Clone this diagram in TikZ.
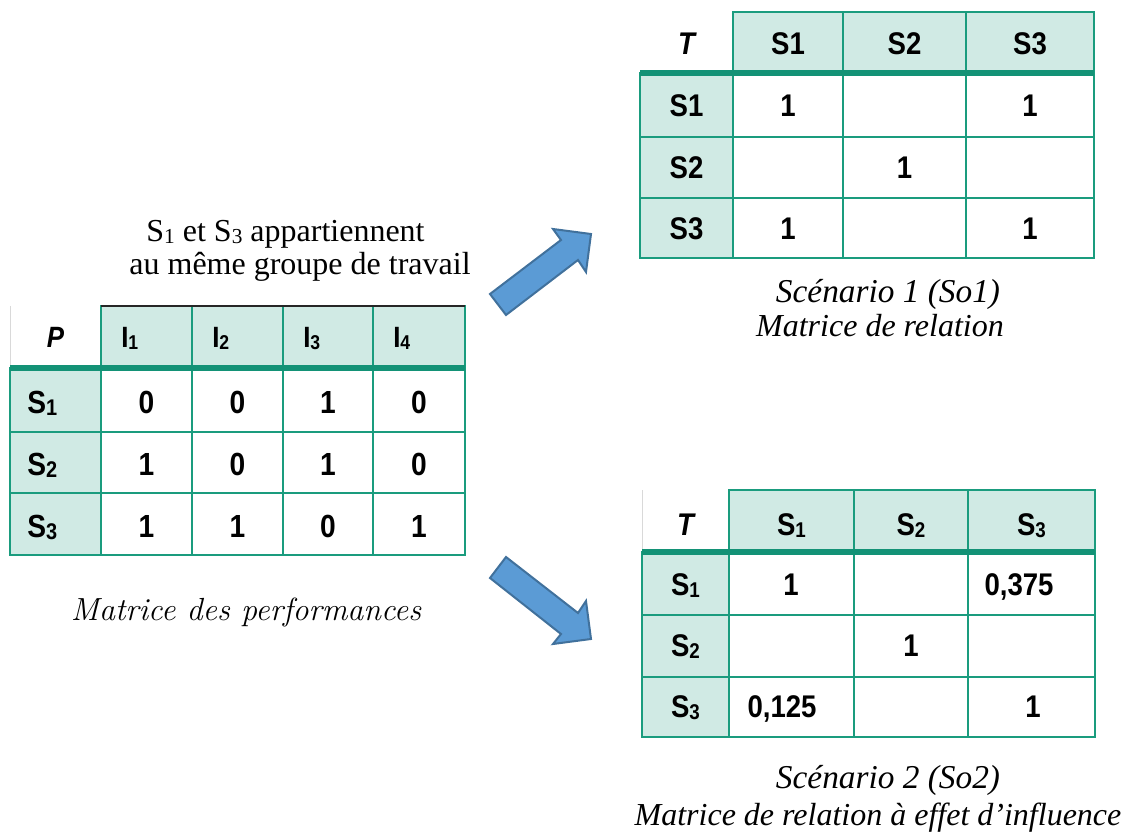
\documentclass[tikz,border=0pt]{standalone}
\usepackage{fontspec}
\setmainfont{Liberation Serif}
\newfontfamily\cellfont[FakeStretch=0.88]{Liberation Sans}
\newfontfamily\lmfont{Latin Modern Roman}
\definecolor{tealline}{RGB}{26,156,126}
\definecolor{tealdark}{RGB}{19,146,118}
\definecolor{tealfill}{RGB}{208,234,228}
\definecolor{arrowfill}{RGB}{91,155,213}
\definecolor{arrowdraw}{RGB}{65,113,156}
\newcommand\ssb[2]{\raisebox{-1.5pt}{\fontsize{#1}{#1}\selectfont #2}}
\begin{document}
\begin{tikzpicture}[x=0.75pt,y=-0.75pt,
  gridline/.style={draw=tealline, line width=1.5pt, line cap=rect},
  sepline/.style={draw=tealdark, line width=4pt},
  faint/.style={draw=black!15, line width=0.6pt},
  cell/.style={font=\cellfont\bfseries\fontsize{23.5}{27}\selectfont, inner sep=0pt, anchor=base},
  cellL/.style={font=\cellfont\bfseries\fontsize{24}{28}\selectfont, inner sep=0pt, anchor=base},
  hcell/.style={font=\cellfont\bfseries\fontsize{22}{26}\selectfont, inner sep=0pt, anchor=base west},
  lcell/.style={font=\cellfont\bfseries\fontsize{24}{28}\selectfont, inner sep=0pt, anchor=base west},
  capup/.style={font=\fontsize{24}{28}\selectfont, inner sep=0pt, anchor=base},
  capit/.style={font=\fontsize{24}{28}\selectfont\itshape, inner sep=0pt, anchor=base},
  bigarrow/.style={fill=arrowfill, draw=arrowdraw, line width=1.5pt, line join=miter}]
\path[use as bounding box] (0,0) rectangle (1128,834);

% ---------- Left table (performances) ----------
\fill[tealfill] (101,306) rectangle (465,368);
\fill[tealfill] (10,368) rectangle (101,555);
\draw[faint] (10,306) -- (10,368);
\draw[gridline] (10,368) -- (10,555);
\foreach \x in {101,192,283,373,465} \draw[gridline] (\x,306) -- (\x,555);
\foreach \y in {432,493,555} \draw[gridline] (10,\y) -- (465,\y);
\draw[black!85, line width=1.5pt] (101,306) -- (465,306);
\draw[sepline] (10,368) -- (465,368);

\node[cell, font=\cellfont\bfseries\itshape\fontsize{22}{26}\selectfont] (lP) at (55.5,348) {P};
\node[hcell] (lI1) at (121,348) {I\ssb{15}{1}};
\node[hcell] (lI2) at (212,348) {I\ssb{15}{2}};
\node[hcell] (lI3) at (303,348) {I\ssb{15}{3}};
\node[hcell] (lI4) at (393,348) {I\ssb{15}{4}};
\node[lcell] (lS1) at (27,413) {S\ssb{17}{1}};
\node[lcell] (lS2) at (27,475) {S\ssb{17}{2}};
\node[lcell] (lS3) at (27,537) {S\ssb{17}{3}};
\node[cellL] (l11) at (146.5,413) {0};
\node[cellL] (l12) at (237.5,413) {0};
\node[cellL] (l13) at (328,413) {1};
\node[cellL] (l14) at (419,413) {0};
\node[cellL] (l21) at (146.5,475) {1};
\node[cellL] (l22) at (237.5,475) {0};
\node[cellL] (l23) at (328,475) {1};
\node[cellL] (l24) at (419,475) {0};
\node[cellL] (l31) at (146.5,537) {1};
\node[cellL] (l32) at (237.5,537) {1};
\node[cellL] (l33) at (328,537) {0};
\node[cellL] (l34) at (419,537) {1};

% ---------- Top right table (scenario 1) ----------
\fill[tealfill] (733,12) rectangle (1094,73);
\fill[tealfill] (640,73) rectangle (733,258);
\draw[gridline] (640,73) -- (640,258);
\foreach \x in {733,843,966,1094} \draw[gridline] (\x,12) -- (\x,258);
\draw[gridline] (733,12) -- (1094,12);
\foreach \y in {137,198,258} \draw[gridline] (640,\y) -- (1094,\y);
\draw[sepline] (640,73) -- (1094,73);

\node[cell, font=\cellfont\bfseries\itshape\fontsize{23.5}{27}\selectfont] (aT) at (686.5,55) {T};
\node[cell] (aH1) at (788,55) {S1};
\node[cell] (aH2) at (904.5,55) {S2};
\node[cell] (aH3) at (1030,55) {S3};
\node[cell] (aR1) at (686.5,117) {S1};
\node[cell] (aR2) at (686.5,179) {S2};
\node[cell] (aR3) at (686.5,240) {S3};
\node[cell] (a11) at (788,117) {1};
\node[cell] (a13) at (1030,117) {1};
\node[cell] (a22) at (904.5,179) {1};
\node[cell] (a31) at (788,240) {1};
\node[cell] (a33) at (1030,240) {1};

% ---------- Bottom right table (scenario 2) ----------
\fill[tealfill] (729,490) rectangle (1095,552);
\fill[tealfill] (642,552) rectangle (729,737);
\draw[faint] (642,490) -- (642,552);
\draw[gridline] (642,552) -- (642,737);
\foreach \x in {729,854,968,1095} \draw[gridline] (\x,490) -- (\x,737);
\draw[gridline] (729,490) -- (1095,490);
\foreach \y in {615,677,737} \draw[gridline] (642,\y) -- (1095,\y);
\draw[sepline] (642,552) -- (1095,552);

\node[cell, font=\cellfont\bfseries\itshape\fontsize{23.5}{27}\selectfont] (bT) at (685.5,535) {T};
\node[cell] (bH1) at (791.5,535) {S\ssb{16}{1}};
\node[cell] (bH2) at (911,535) {S\ssb{16}{2}};
\node[cell] (bH3) at (1031.5,535) {S\ssb{16}{3}};
\node[cell] (bR1) at (685.5,595) {S\ssb{16}{1}};
\node[cell] (bR2) at (685.5,656) {S\ssb{16}{2}};
\node[cell] (bR3) at (685.5,717) {S\ssb{16}{3}};
\node[cell] (b11) at (791,595) {1};
\node[cell] (b13) at (1019,595) {0,375};
\node[cell] (b22) at (911,656) {1};
\node[cell] (b31) at (782,717) {0,125};
\node[cell] (b33) at (1033,717) {1};

% ---------- Arrows ----------
\draw[bigarrow] (490,294) -- (561,240) -- (553,229) -- (591,234) -- (586,272) -- (578,260) -- (506,315) -- cycle;
\draw[bigarrow] (490,578) -- (506,557) -- (578,613) -- (586,601) -- (591,639) -- (553,644) -- (561,634) -- cycle;

% ---------- Captions ----------
\node[capup] (cap1a) at (285.5,242) {S\ssb{16}{1} et S\ssb{16}{3} appartiennent};
\node[capup] (cap1b) at (300,275) {au même groupe de travail};
\node[capit, font=\lmfont\itshape\fontsize{24}{28}\selectfont] (capP) at (246,620) {Matrice des performances};
\node[capit, font=\fontsize{25}{29}\selectfont\itshape] (capS1a) at (888,302) {Scénario 1 (So1)};
\node[capit] (capS1b) at (880,336) {Matrice de relation};
\node[capit, font=\fontsize{25}{29}\selectfont\itshape] (capS2a) at (888,788) {Scénario 2 (So2)};
\node[capit] (capS2b) at (878,825) {Matrice de relation à effet d’influence};
\end{tikzpicture}
\end{document}
